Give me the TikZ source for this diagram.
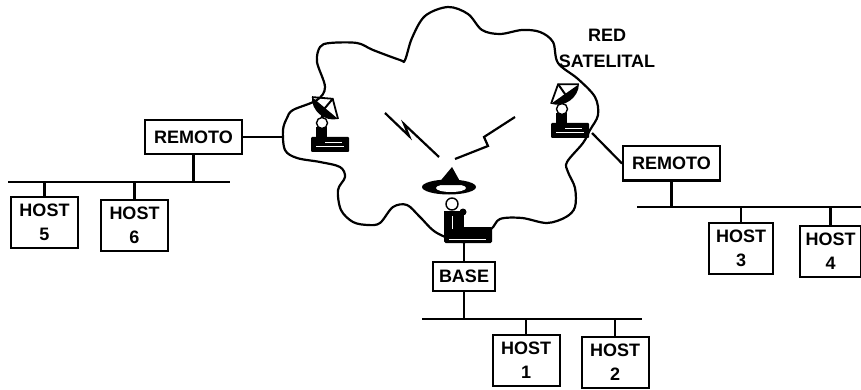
\documentclass[tikz,border=0pt]{standalone}
\usepackage{fontspec}
\setmainfont{Liberation Sans}
\usepackage{tikz}
\usetikzlibrary{positioning}
\tikzset{
unit/.style={
  draw,
  rectangle,
  line width=2pt,
  inner sep=2pt,
  align=center,
  font=\fontsize{18}{24}\selectfont\bfseries
},
remote/.style={unit,minimum width=97pt,minimum height=34pt},
host/.style={unit,minimum width=67pt,minimum height=51pt},
wire/.style={line width=2.2pt},
%dish on a console, #1 turns the dish
station/.pic={
  \fill[rounded corners=1pt] (-19,0) rectangle (19,-15);
  \fill (-14,-15) rectangle (-3,-25);
  \draw[white,line width=1pt] (-14,-5) -- (14,-5);
  \draw[white,line width=1pt] (-5,-9) -- (12,-9);
  \draw[fill=white,line width=1.4pt] (-8,-29) circle (5.5);
  \draw[line width=3pt] (-8,-34) -- (-6,-42);
  \begin{scope}[shift={(-5,-44)},rotate=#1]
    \fill (-17,0) .. controls (-9,11) and (9,11) .. (17,0) -- cycle;
    \draw[line width=2pt] (0,4) -- (0,-12);
    \draw[line width=1.8pt] (-17,0) -- (0,-12) -- (17,0);
  \end{scope}
},
%the big dish of the hub
hub/.pic={
  \fill[rounded corners=1.5pt] (-20,0) rectangle (28,-16);
  \fill (-20,-10) rectangle (0,-32);
  \draw[white,line width=1pt] (-15,-4) -- (22,-4);
  \draw[white,line width=1pt] (-12,-14) -- (-12,-27);
  \fill (-1,-31) circle (3.5);
  \draw[fill=white,line width=1.4pt] (-12,-39) circle (6);
  \fill (-15,-56) ellipse (27 and 7.5);
  \fill[white] (-13,-55) ellipse (15 and 4);
  \fill (-27,-58) -- (-12,-76) -- (-2,-58) -- cycle;
}
}

\begin{document}
\begin{tikzpicture}[x=1pt,y=-1pt]
\useasboundingbox (0,0) rectangle (861,390);
% the cloud
\draw[wire] plot[smooth cycle,tension=0.55] coordinates {
  (405,60) (412,38) (425,16) (448,7) (468,14) (482,30) (500,34)
  (522,30) (540,32) (553,42) (558,63) (578,79) (595,97) (598,115)
  (590,130) (583,143) (567,162) (568,172) (575,188) (575,207)
  (566,217) (547,223) (522,218) (500,219) (490,230) (465,242)
  (437,233) (420,217) (407,205) (393,207) (380,223) (368,225)
  (353,222) (341,210) (338,190) (345,177) (340,167) (320,162)
  (297,158) (285,150) (283,130) (287,118) (293,110) (317,100)
  (325,87) (317,62) (320,47) (330,43) (357,43) (373,50) (400,60)
};
\node[align=center,font=\fontsize{18}{26}\selectfont\bfseries] (title) at (607,48) {RED\\SATELITAL};
% the earth stations
\pic at (330,152) {station=-40};
\pic at (570,138) {station=35};
\pic at (464,243) {hub};
\coordinate (hubfoot) at (464,243);
\coordinate (cl) at (284,136);
\coordinate (rsat) at (592,133);
% the radio links
\draw[wire] (385,113) -- (409,136) -- (404,124) -- (439,157);
\draw[wire] (515,117) -- (484,137) -- (488,146) -- (455,159);
% the ground units
\node[remote] (rl) at (193.5,137) {REMOTO};
\node[remote] (rr) at (671.5,163.5) {REMOTO};
\node[unit,minimum width=62pt,minimum height=29pt] (base) at (464,276.5) {BASE};
\node[host] (h5) at (44.5,222.5) {HOST\\5};
\node[host,right=21pt of h5,yshift=-3pt] (h6) {HOST\\6};
\node[host,minimum width=64pt] (h3) at (741,248) {HOST\\3};
\node[host,minimum width=61pt,right=25pt of h3,yshift=-3pt] (h4) {HOST\\4};
\node[host] (h1) at (526,360) {HOST\\1};
\node[host,right=20pt of h1,yshift=-2pt] (h2) {HOST\\2};
% the buses
\coordinate (lbus1) at (8,182);
\coordinate (lbus2) at (230,182);
\coordinate (rbus1) at (637,207);
\coordinate (rbus2) at (861,207);
\coordinate (bbus1) at (422,319);
\coordinate (bbus2) at (642,319);
\draw[wire] (lbus1) -- (lbus2);
\draw[wire] (rbus1) -- (rbus2);
\draw[wire] (bbus1) -- (bbus2);
% the drops
\draw[wire] (rl.east) -- (rl.east -| cl);
\draw[wire] (rsat) -- (rr.west);
\draw[wire] (hubfoot) -- (base.north);
\draw[wire] (rl.south) -- (rl.south |- lbus1);
\draw[wire] (rr.south) -- (rr.south |- rbus1);
\draw[wire] (base.south) -- (base.south |- bbus1);
\foreach \h in {h5,h6}
  \draw[wire] (\h.north) -- (\h.north |- lbus1);
\foreach \h in {h3,h4}
  \draw[wire] (\h.north) -- (\h.north |- rbus1);
\foreach \h in {h1,h2}
  \draw[wire] (\h.north) -- (\h.north |- bbus1);
\end{tikzpicture}
\end{document}
